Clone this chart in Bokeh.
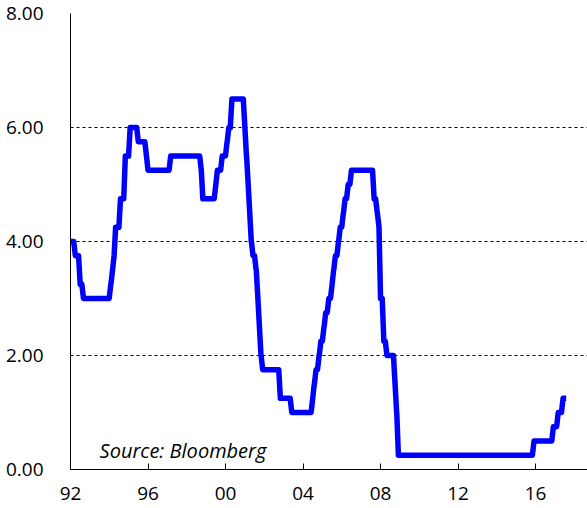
from bokeh.plotting import figure
from bokeh.models import FixedTicker, Label, Range1d
from bokeh.embed import file_html
from bokeh.resources import INLINE

# Fed funds target rate: change points (decimal year, rate %)
change_dates = [1992.0, 1992.25, 1992.5, 1992.67, 1994.08, 1994.17, 1994.25, 1994.33,
                1994.58, 1994.83, 1995.08, 1995.5, 1995.92, 1996.0, 1997.17, 1998.75,
                1998.79, 1998.83, 1999.5, 1999.58, 1999.83, 2000.08, 2000.17, 2000.33,
                2001.0, 2001.08, 2001.17, 2001.25, 2001.33, 2001.42, 2001.58, 2001.67,
                2001.75, 2001.83, 2001.92, 2002.83, 2003.42, 2004.5, 2004.58, 2004.67,
                2004.83, 2004.92, 2005.08, 2005.17, 2005.33, 2005.5, 2005.58, 2005.67,
                2005.83, 2005.92, 2006.08, 2006.17, 2006.33, 2006.5, 2007.67, 2007.83,
                2007.92, 2008.0, 2008.17, 2008.33, 2008.75, 2008.83, 2008.92, 2015.92,
                2016.92, 2017.17, 2017.42, 2017.58]
rates = [4.00, 3.75, 3.25, 3.00, 3.25, 3.50, 3.75, 4.25,
         4.75, 5.50, 6.00, 5.75, 5.50, 5.25, 5.50, 5.25,
         5.00, 4.75, 5.00, 5.25, 5.50, 5.75, 6.00, 6.50,
         6.00, 5.50, 5.00, 4.50, 4.00, 3.75, 3.50, 3.00,
         2.50, 2.00, 1.75, 1.25, 1.00, 1.25, 1.50, 1.75,
         2.00, 2.25, 2.50, 2.75, 3.00, 3.25, 3.50, 3.75,
         4.00, 4.25, 4.50, 4.75, 5.00, 5.25, 4.75, 4.50,
         4.25, 3.00, 2.25, 2.00, 1.50, 1.00, 0.25, 0.50,
         0.75, 1.00, 1.25, 1.25]

x_ticks = [1992, 1996, 2000, 2004, 2008, 2012, 2016]
x_tick_labels = ["92", "96", "00", "04", "08", "12", "16"]
y_ticks = [0, 2, 4, 6, 8]
y_tick_labels = ["0.00", "2.00", "4.00", "6.00", "8.00"]
source_text = "Source: Bloomberg"

FONT = "Open Sans"

# monthly series: each change moves from the prior month's level to the new one
MONTH = 1.0 / 12.0
xs, ys = [change_dates[0]], [rates[0]]
for i in range(1, len(change_dates)):
    prev_x = max(change_dates[i] - MONTH, change_dates[i - 1])
    xs.append(prev_x)
    ys.append(rates[i - 1])
    xs.append(change_dates[i])
    ys.append(rates[i])

p = figure(width=587, height=508, output_backend="svg", toolbar_location=None,
           x_range=Range1d(1992, 2018.68), y_range=Range1d(0, 8),
           min_border_left=70, min_border_right=0, min_border_top=13, min_border_bottom=39)
p.outline_line_color = None
p.background_fill_color = "white"
p.border_fill_color = "white"

p.line(xs, ys, line_color="#0000FF", line_width=5.5, line_join="round")

# x axis
p.xaxis.ticker = FixedTicker(ticks=x_ticks)
p.xaxis.major_label_overrides = {t: l for t, l in zip(x_ticks, x_tick_labels)}
p.xaxis.major_tick_in = 6
p.xaxis.major_tick_out = 0
p.xaxis.minor_tick_line_color = None
p.xaxis.major_label_standoff = 17
p.xaxis.axis_line_color = "black"
p.xaxis.major_tick_line_color = "black"

# y axis
p.yaxis.ticker = FixedTicker(ticks=y_ticks)
p.yaxis.major_label_overrides = {t: l for t, l in zip(y_ticks, y_tick_labels)}
p.yaxis.major_tick_line_color = None
p.yaxis.minor_tick_line_color = None
p.yaxis.major_label_standoff = 21
p.yaxis.axis_line_color = "black"

for ax in (p.xaxis, p.yaxis):
    ax.major_label_text_font = FONT
    ax.major_label_text_font_size = "19px"
    ax.major_label_text_color = "black"

p.xgrid.grid_line_color = None
p.ygrid.ticker = FixedTicker(ticks=[2, 4, 6])
p.ygrid.grid_line_color = "black"
p.ygrid.grid_line_dash = "3 3"
p.ygrid.grid_line_width = 1

p.add_layout(Label(x=1993.5, y=0.33, text=source_text, text_font=FONT,
                   text_font_style="italic", text_font_size="20px",
                   text_color="black", text_baseline="alphabetic"))

open("out.html", "w").write(file_html(p, INLINE))
